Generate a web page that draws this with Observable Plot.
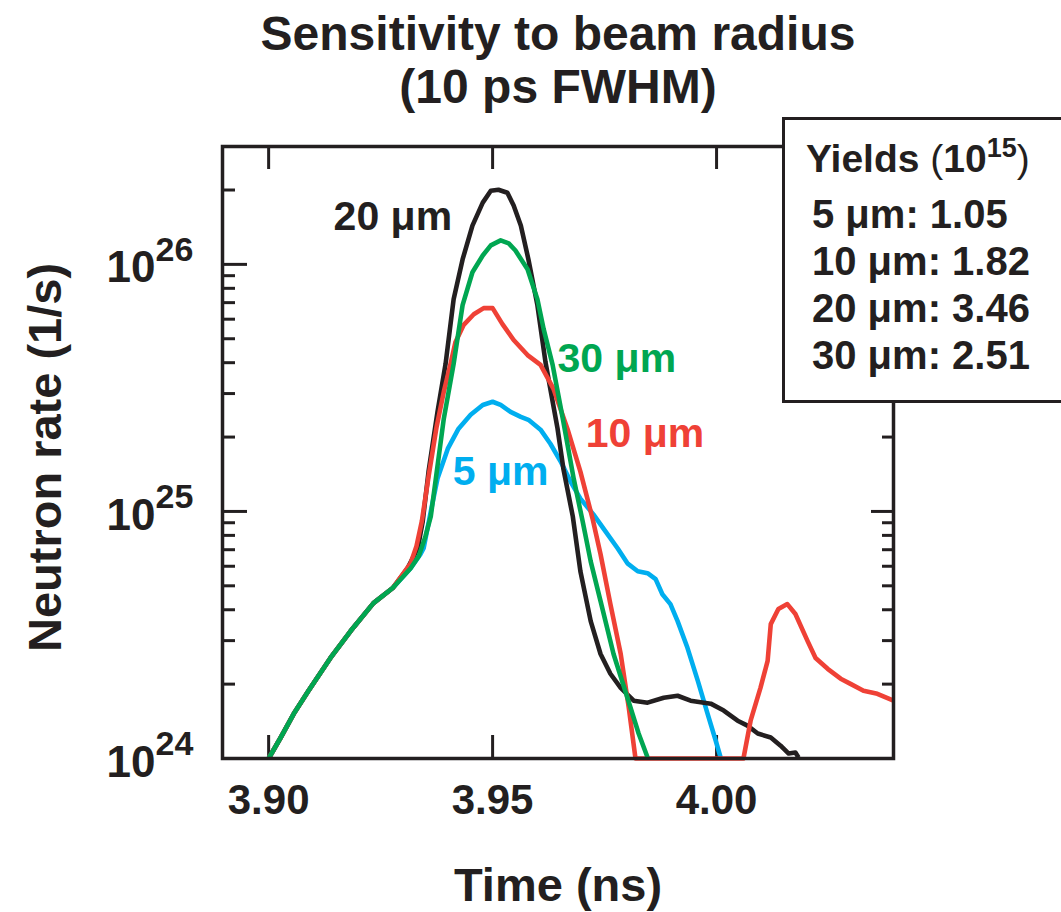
<!DOCTYPE html>
<html><head><meta charset="utf-8">
<script src="https://cdn.jsdelivr.net/npm/d3@7"></script>
<script src="https://cdn.jsdelivr.net/npm/@observablehq/plot@0.6"></script>
<style>
html,body{margin:0;padding:0;background:#fff;overflow:hidden;}
#wrap{position:relative;width:1061px;height:912px;font-family:"Liberation Sans",Arial,Helvetica,sans-serif;color:#231f20;}
#box{position:absolute;left:782px;top:117px;}
</style>
</head><body>
<div id="wrap"></div>
<script>
// ---- data (time in ns, log10 of neutron rate in 1/s) ----
const commonT   = [3.9000, 3.9027, 3.9056, 3.9089, 3.9138, 3.9183, 3.9234, 3.9277];
const commonLog = [24.000, 24.085, 24.181, 24.274, 24.407, 24.516, 24.629, 24.690];

const t20 = [3.9310,3.9333,3.9344,3.9357,3.9377,3.9395,3.9413,3.9433,3.9455,3.9478,3.9496,3.9513,3.9533,3.9547,3.9563,3.9580,3.9600,3.9618,3.9645,3.9658,3.9679,3.9696,3.9719,3.9741,3.9763,3.9786,3.9815,3.9846,3.9882,3.9913,3.9942,3.9987,4.0016,4.0047,4.0069,4.0092,4.0121,4.0143,4.0161,4.0176,4.0183];
const r20 = [24.770,24.851,24.960,25.161,25.403,25.597,25.859,26.020,26.157,26.250,26.298,26.302,26.290,26.238,26.157,26.020,25.835,25.605,25.335,25.173,24.980,24.758,24.556,24.423,24.343,24.286,24.234,24.226,24.246,24.254,24.234,24.222,24.194,24.153,24.133,24.101,24.085,24.052,24.020,24.024,24.004];

const t30 = [3.9317,3.9335,3.9350,3.9362,3.9373,3.9391,3.9413,3.9433,3.9455,3.9478,3.9496,3.9518,3.9536,3.9551,3.9578,3.9600,3.9614,3.9634,3.9658,3.9681,3.9701,3.9719,3.9741,3.9770,3.9801,3.9826,3.9846];
const r30 = [24.770,24.819,24.899,24.980,25.129,25.375,25.597,25.835,25.968,26.036,26.077,26.097,26.085,26.056,25.980,25.859,25.738,25.593,25.363,25.133,24.960,24.798,24.637,24.423,24.246,24.101,24.004];

const t10 = [3.9317,3.9330,3.9342,3.9357,3.9375,3.9391,3.9406,3.9417,3.9435,3.9458,3.9480,3.9500,3.9522,3.9547,3.9578,3.9607,3.9636,3.9667,3.9696,3.9723,3.9741,3.9763,3.9786,3.9804,3.9819,4.0060,4.0076,4.0098,4.0114,4.0121,4.0138,4.0158,4.0176,4.0203,4.0221,4.0248,4.0277,4.0299,4.0328,4.0359,4.0395];
const r10 = [24.790,24.859,24.960,25.141,25.343,25.484,25.597,25.685,25.754,25.798,25.823,25.823,25.758,25.694,25.633,25.593,25.496,25.335,25.161,24.972,24.827,24.625,24.423,24.206,24.000,24.000,24.153,24.286,24.395,24.544,24.605,24.625,24.585,24.476,24.407,24.363,24.323,24.302,24.274,24.262,24.234];

const t5 = [3.9317,3.9339,3.9346,3.9362,3.9377,3.9400,3.9424,3.9451,3.9478,3.9500,3.9518,3.9540,3.9563,3.9580,3.9607,3.9629,3.9652,3.9674,3.9696,3.9725,3.9752,3.9779,3.9801,3.9824,3.9846,3.9864,3.9879,3.9897,3.9913,3.9935,3.9958,3.9980,3.9998,4.0009];
const r5 = [24.770,24.827,24.851,25.000,25.133,25.254,25.335,25.391,25.431,25.444,25.431,25.403,25.383,25.371,25.331,25.274,25.202,25.121,25.052,24.988,24.919,24.851,24.790,24.758,24.750,24.726,24.665,24.625,24.556,24.448,24.315,24.181,24.073,24.004];

const seriesNames  = ["5 μm", "20 μm", "10 μm", "30 μm"];   // drawing order
const seriesColors = ["#00aeef", "#231f20", "#ef4136", "#00a651"];

const xTickValues = [3.90, 3.95, 4.00];
const xTickLabels = ["3.90", "3.95", "4.00"];
const yTickExponents = [24, 25, 26];
const yMinorTicks = [2e24,3e24,4e24,5e24,6e24,7e24,8e24,9e24,2e25,3e25,4e25,5e25,6e25,7e25,8e25,9e25,2e26];

const curveLabels = ["20 μm", "30 μm", "10 μm", "5 μm"];
const curveLabelT = [3.9145, 3.9645, 3.9708, 3.9411];
const curveLabelR = [1.55e26, 4.14e25, 2.07e25, 1.45e25];
const curveLabelColors = ["#231f20", "#00a651", "#ef4136", "#00aeef"];

const yieldRadii  = ["5 μm", "10 μm", "20 μm", "30 μm"];
const yieldValues = ["1.05", "1.82", "3.46", "2.51"];

// ---- build table ----
const seriesT = {"5 μm": t5, "20 μm": t20, "10 μm": t10, "30 μm": t30};
const seriesR = {"5 μm": r5, "20 μm": r20, "10 μm": r10, "30 μm": r30};
const rows = [];
for (const name of seriesNames) {
  const T = commonT.concat(seriesT[name]);
  const R = commonLog.concat(seriesR[name]);
  T.forEach((t, i) => rows.push({series: name, t, rate: Math.pow(10, R[i])}));
}
const labelRows = curveLabels.map((s, i) => ({s, t: curveLabelT[i], r: curveLabelR[i], c: curveLabelColors[i]}));

const W = 1061, H = 912, mL = 222, mR = 168, mT = 146, mB = 154;
const pw = W - mL - mR, ph = H - mT - mB;
const ink = "#231f20";
const font = '"Liberation Sans", Arial, Helvetica, sans-serif';

const chart = Plot.plot({
  width: W, height: H,
  marginLeft: mL, marginRight: mR, marginTop: mT, marginBottom: mB,
  style: {fontFamily: font, background: "white", color: ink, overflow: "visible"},
  x: {domain: [3.8897, 4.0395], axis: null},
  y: {type: "log", domain: [1e24, 3e26], axis: null},
  color: {domain: seriesNames, range: seriesColors},
  marks: [
    // ticks (inward)
    Plot.tickX(xTickValues, {x: d => d, stroke: ink, strokeWidth: 3, insetTop: ph - 23}),
    Plot.tickX(xTickValues, {x: d => d, stroke: ink, strokeWidth: 3, insetBottom: ph - 23}),
    Plot.tickY(yTickExponents, {y: d => Math.pow(10, d), stroke: ink, strokeWidth: 3, insetRight: pw - 25}),
    Plot.tickY(yTickExponents, {y: d => Math.pow(10, d), stroke: ink, strokeWidth: 3, insetLeft: pw - 22}),
    Plot.tickY(yMinorTicks, {y: d => d, stroke: ink, strokeWidth: 3, insetRight: pw - 13}),
    Plot.tickY(yMinorTicks, {y: d => d, stroke: ink, strokeWidth: 3, insetLeft: pw - 11}),
    // curves
    Plot.line(rows, {x: "t", y: "rate", z: "series", stroke: "series", strokeWidth: 4.6, strokeLinejoin: "round", strokeLinecap: "butt"}),
    Plot.frame({stroke: ink, strokeWidth: 3.5}),
    // curve labels
    Plot.text(labelRows, {x: "t", y: "r", text: "s", fill: "c", textAnchor: "start", lineAnchor: "middle", fontSize: 41, fontWeight: "bold"}),
    // x tick labels
    Plot.text(xTickValues, {x: d => d, text: (d, i) => xTickLabels[i], frameAnchor: "bottom", dy: 42, textAnchor: "middle", lineAnchor: "middle", fontSize: 42, fontWeight: "bold", fill: ink}),
    // y tick labels: mantissa and exponent
    Plot.text(yTickExponents, {y: d => Math.pow(10, d), text: d => "10", frameAnchor: "left", dx: -67, dy: 4, textAnchor: "end", lineAnchor: "middle", fontSize: 44, fontWeight: "bold", fill: ink}),
    Plot.text(yTickExponents, {y: d => Math.pow(10, d), text: d => String(d), frameAnchor: "left", dx: -67, dy: -14, textAnchor: "start", lineAnchor: "middle", fontSize: 34, fontWeight: "bold", fill: ink}),
    // axis titles
    Plot.text(["Time (ns)"], {frameAnchor: "bottom", dy: 127, textAnchor: "middle", lineAnchor: "middle", fontSize: 47, fontWeight: "bold", fill: ink}),
    Plot.text(["Neutron rate (1/s)"], {frameAnchor: "left", dx: -177, dy: 5, rotate: -90, textAnchor: "middle", lineAnchor: "middle", fontSize: 47, fontWeight: "bold", fill: ink}),
    // title
    Plot.text(["Sensitivity to beam radius\n(10 ps FWHM)"], {frameAnchor: "top", dy: -87, textAnchor: "middle", lineAnchor: "middle", lineHeight: 1.1, fontSize: 48, fontWeight: "bold", fill: ink})
  ]
});

const wrap = document.getElementById("wrap");
wrap.appendChild(chart);

// yields box annotation, drawn as SVG text over the chart
const svgNS = "http://www.w3.org/2000/svg";
const box = document.createElementNS(svgNS, "svg");
box.setAttribute("id", "box");
box.setAttribute("width", 290);
box.setAttribute("height", 290);
box.style.fontFamily = font;
const rect = document.createElementNS(svgNS, "rect");
rect.setAttribute("x", 1.5); rect.setAttribute("y", 1.5);
rect.setAttribute("width", 320); rect.setAttribute("height", 283);
rect.setAttribute("fill", "white"); rect.setAttribute("stroke", ink); rect.setAttribute("stroke-width", 3);
box.appendChild(rect);
const head = document.createElementNS(svgNS, "text");
head.setAttribute("x", 24); head.setAttribute("y", 55);
head.setAttribute("font-size", 39); head.setAttribute("font-weight", "bold"); head.setAttribute("fill", ink);
head.innerHTML = 'Yields <tspan font-weight="normal">(</tspan>10<tspan font-size="27" dy="-15">15</tspan><tspan font-weight="normal" dy="15">)</tspan>';
box.appendChild(head);
yieldRadii.forEach((r, i) => {
  const tx = document.createElementNS(svgNS, "text");
  tx.setAttribute("x", 30); tx.setAttribute("y", 111 + i * 47);
  tx.setAttribute("font-size", 40); tx.setAttribute("font-weight", "bold"); tx.setAttribute("fill", ink);
  tx.textContent = r + ": " + yieldValues[i];
  box.appendChild(tx);
});
wrap.appendChild(box);
</script>
</body></html>
